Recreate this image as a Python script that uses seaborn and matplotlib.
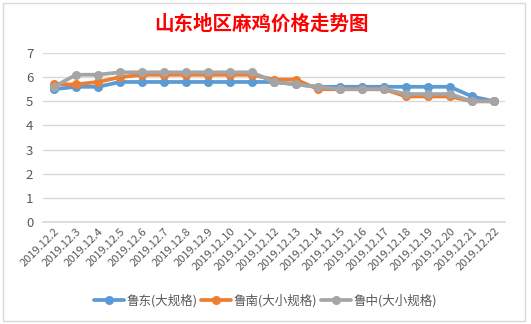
import matplotlib
matplotlib.use("Agg")
import matplotlib.pyplot as plt
import seaborn as sns
import pandas as pd
from matplotlib.patches import Rectangle

dates = ["2019.12.2", "2019.12.3", "2019.12.4", "2019.12.5", "2019.12.6", "2019.12.7",
         "2019.12.8", "2019.12.9", "2019.12.10", "2019.12.11", "2019.12.12", "2019.12.13",
         "2019.12.14", "2019.12.15", "2019.12.16", "2019.12.17", "2019.12.18", "2019.12.19",
         "2019.12.20", "2019.12.21", "2019.12.22"]
ludong = [5.5, 5.6, 5.6, 5.8, 5.8, 5.8, 5.8, 5.8, 5.8, 5.8, 5.8, 5.7, 5.6, 5.6, 5.6, 5.6,
          5.6, 5.6, 5.6, 5.2, 5.0]
lunan = [5.7, 5.7, 5.8, 6.0, 6.1, 6.1, 6.1, 6.1, 6.1, 6.1, 5.9, 5.9, 5.5, 5.5, 5.5, 5.5,
         5.2, 5.2, 5.2, 5.0, 5.0]
luzhong = [5.6, 6.1, 6.1, 6.2, 6.2, 6.2, 6.2, 6.2, 6.2, 6.2, 5.8, 5.7, 5.6, 5.5, 5.5, 5.5,
           5.3, 5.3, 5.3, 5.0, 5.0]
series_names = ["鲁东(大规格)", "鲁南(大小规格)", "鲁中(大小规格)"]
colors = ["#5B9BD5", "#ED7D31", "#A5A5A5"]
title = "山东地区麻鸡价格走势图"

rows = []
for name, vals in zip(series_names, [ludong, lunan, luzhong]):
    for i, (d, v) in enumerate(zip(dates, vals)):
        rows.append({"idx": i, "date": d, "price": v, "series": name})
df = pd.DataFrame(rows)

sns.set_theme(style="white")
plt.rcParams["font.family"] = ["Noto Sans CJK SC", "DejaVu Sans"]

fig = plt.figure(figsize=(5.31, 3.24), dpi=100)
ax = fig.add_axes([43 / 531, (324 - 222) / 324, 462 / 531, 169 / 324])

sns.lineplot(data=df, x="idx", y="price", hue="series", hue_order=series_names,
             palette=colors, marker="o", markersize=6.5, markeredgewidth=0,
             linewidth=2.7, ax=ax, legend=True)

ax.set_xlim(-0.5, len(dates) - 0.5)
ax.set_ylim(0, 7)
ax.set_yticks(range(0, 8))
ax.yaxis.grid(True, color="#D9D9D9", linewidth=1)
ax.set_axisbelow(True)
for s in ["top", "right", "left"]:
    ax.spines[s].set_visible(False)
ax.spines["bottom"].set_color("#D9D9D9")
ax.set_xticks(range(len(dates)))
ax.set_xticklabels(dates, rotation=45, ha="right", rotation_mode="anchor",
                   fontsize=8, color="#595959")
ax.tick_params(axis="y", labelsize=9.5, colors="#595959", length=0, pad=7)
ax.tick_params(axis="x", length=0, pad=3)
ax.set_xlabel("")
ax.set_ylabel("")

handles, labels = ax.get_legend_handles_labels()
ax.legend_.remove()
fig.legend(handles, labels, loc="center", bbox_to_anchor=(0.5, (324 - 301) / 324),
           ncol=3, frameon=False, fontsize=9, handlelength=2.4, columnspacing=0.3,
           handletextpad=0.2, labelcolor="#595959")

fig.text(261 / 531, (324 - 24) / 324, title, ha="center", va="center", color="#FF0000",
         fontsize=14, fontweight="bold")

fig.patches.append(Rectangle((3 / 531, 3 / 324), 522 / 531, 318 / 324,
                             transform=fig.transFigure, fill=False,
                             edgecolor="#D9D9D9", linewidth=1))

fig.savefig("out.png", dpi=100)
